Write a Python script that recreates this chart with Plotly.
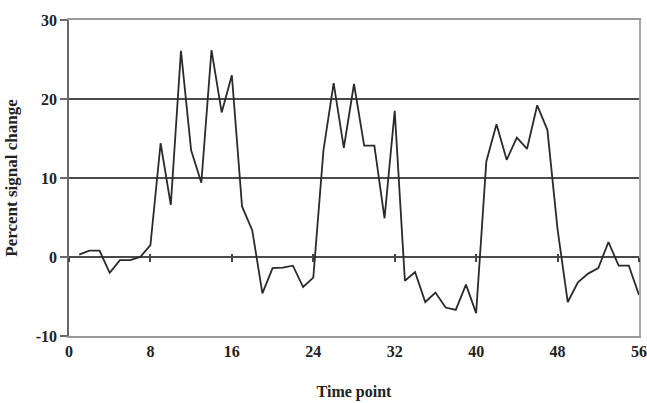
import plotly.graph_objects as go

time_points = list(range(1, 57))
signal_change = [
    0.3, 0.8, 0.8, -2.0, -0.4, -0.4, 0.0, 1.5, 14.4, 6.6,
    26.1, 13.5, 9.4, 26.2, 18.3, 23.0, 6.4, 3.4, -4.6, -1.4,
    -1.35, -1.1, -3.8, -2.6, 13.5, 22.0, 13.8, 21.9, 14.1, 14.1,
    4.9, 18.5, -3.0, -1.9, -5.7, -4.5, -6.4, -6.7, -3.5, -7.1,
    12.1, 16.8, 12.3, 15.1, 13.7, 19.2, 16.1, 3.5, -5.7, -3.2,
    -2.1, -1.4, 1.9, -1.1, -1.1, -4.8,
]
x_ticks = [0, 8, 16, 24, 32, 40, 48, 56]
y_ticks = [-10, 0, 10, 20, 30]

FONT = "Liberation Serif"
TXT = "#222222"

fig = go.Figure()
fig.add_trace(go.Scatter(
    x=time_points, y=signal_change, mode="lines",
    line=dict(color="#2a2a2a", width=1.8),
    showlegend=False, hoverinfo="skip",
))
# empty traces so the overlay axes are drawn
for ax in ["x2", "x3"]:
    fig.add_trace(go.Scatter(x=[], y=[], xaxis=ax, showlegend=False, hoverinfo="skip"))
fig.add_trace(go.Scatter(x=[], y=[], yaxis="y2", showlegend=False, hoverinfo="skip"))

fig.update_layout(
    width=647, height=403,
    margin=dict(l=69, r=8, t=20, b=67),
    paper_bgcolor="white", plot_bgcolor="white",
    font=dict(family=FONT, color=TXT),
    xaxis=dict(
        range=[0, 56], tickvals=x_ticks, ticktext=[str(v) for v in x_ticks],
        showgrid=False, zeroline=False, automargin=False,
        showline=True, mirror=True, linecolor="#9a9a9a", linewidth=1.5,
        ticks="", ticklabeloverflow="allow",
        tickfont=dict(family=FONT, size=16, color=TXT, weight="bold"),
        title=dict(text="<b>Time point</b>", font=dict(family=FONT, size=16, color=TXT), standoff=27),
    ),
    xaxis2=dict(
        range=[0, 56], tickvals=x_ticks, overlaying="x", anchor="free", position=0.25,
        showgrid=False, zeroline=False, showline=False, showticklabels=False,
        ticks="outside", ticklen=4, tickcolor="#444444", tickwidth=1.5,
    ),
    xaxis3=dict(
        range=[0, 56], tickvals=x_ticks, overlaying="x", anchor="free", position=0.25,
        showgrid=False, zeroline=False, showline=False, showticklabels=False,
        ticks="inside", ticklen=3, tickcolor="#444444", tickwidth=1.5,
    ),
    yaxis=dict(
        range=[-10, 30], tickvals=y_ticks, ticktext=[str(v) for v in y_ticks],
        showgrid=True, gridcolor="#4a4a4a", gridwidth=1.5, automargin=False,
        zeroline=True, zerolinecolor="#4a4a4a", zerolinewidth=1.5,
        showline=True, linecolor="#6a6a6a", linewidth=1.5,
        ticks="outside", ticklen=7, tickcolor="#6a6a6a", tickwidth=1.5,
        tickfont=dict(family=FONT, size=16, color=TXT, weight="bold"),
        title=dict(text="<b>Percent signal change</b>", font=dict(family=FONT, size=17, color=TXT), standoff=14),
    ),
    yaxis2=dict(
        range=[-10, 30], overlaying="y", side="right", anchor="x", automargin=False,
        showgrid=False, zeroline=False, showticklabels=False, ticks="",
        showline=True, linecolor="#a8a8a8", linewidth=1.5,
    ),
)

# remove the page's default 8px body margin so the 647x403 figure fills the window exactly
fig.write_html("out.html", config={"displayModeBar": False},
               post_script="document.body.style.margin='0';")
